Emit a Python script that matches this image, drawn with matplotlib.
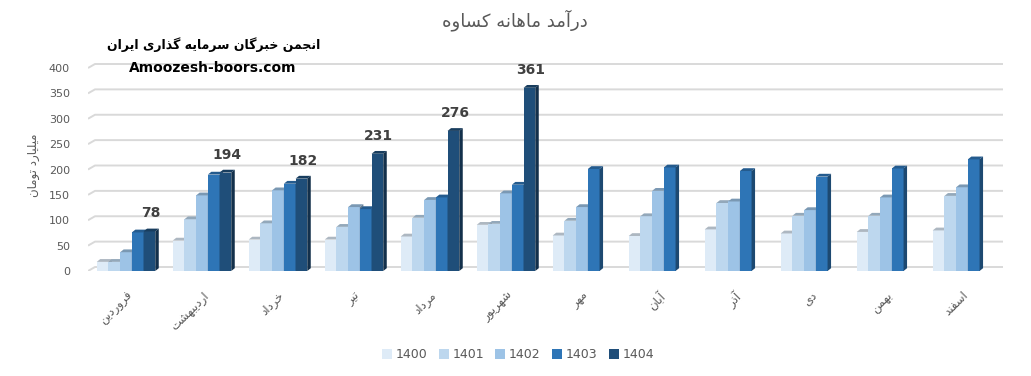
import numpy as np
import matplotlib
matplotlib.use("Agg")
import matplotlib.pyplot as plt
from matplotlib.patches import Polygon
from matplotlib.colors import to_rgb

# ---------------- data ----------------
months = ["فروردین", "اردیبهشت", "خرداد", "تیر", "مرداد", "شهریور",
          "مهر", "آبان", "آذر", "دی", "بهمن", "اسفند"]
years = ["1400", "1401", "1402", "1403", "1404"]
v1400 = [18, 60, 62, 62, 68, 91, 70, 69, 82, 74, 77, 80]
v1401 = [18, 102, 94, 87, 105, 93, 99, 108, 134, 109, 109, 148]
v1402 = [37, 149, 159, 126, 140, 153, 126, 158, 137, 120, 145, 165]
v1403 = [76, 190, 172, 122, 145, 170, 201, 204, 197, 186, 202, 220]
v1404 = [78, 194, 182, 231, 276, 361, np.nan, np.nan, np.nan, np.nan, np.nan, np.nan]
series = [v1400, v1401, v1402, v1403, v1404]
colors = ["#DEEBF7", "#BDD7EE", "#9DC3E6", "#2E75B6", "#1F4E79"]
yticks = [0, 50, 100, 150, 200, 250, 300, 350, 400]
title = "درآمد ماهانه کساوه"
ylabel = "میلیارد تومان"
wm1 = "انجمن خبرگان سرمایه گذاری ایران"
wm2 = "Amoozesh-boors.com"

# ---------------- Persian shaping (presentation forms + visual order) ----------------
FORMS = {
    'ا': (0xFE8D, 0xFE8E, None, None), 'آ': (0xFE81, 0xFE82, None, None),
    'ب': (0xFE8F, 0xFE90, 0xFE91, 0xFE92), 'پ': (0xFB56, 0xFB57, 0xFB58, 0xFB59),
    'ت': (0xFE95, 0xFE96, 0xFE97, 0xFE98), 'ث': (0xFE99, 0xFE9A, 0xFE9B, 0xFE9C),
    'ج': (0xFE9D, 0xFE9E, 0xFE9F, 0xFEA0), 'چ': (0xFB7A, 0xFB7B, 0xFB7C, 0xFB7D),
    'ح': (0xFEA1, 0xFEA2, 0xFEA3, 0xFEA4), 'خ': (0xFEA5, 0xFEA6, 0xFEA7, 0xFEA8),
    'د': (0xFEA9, 0xFEAA, None, None), 'ذ': (0xFEAB, 0xFEAC, None, None),
    'ر': (0xFEAD, 0xFEAE, None, None), 'ز': (0xFEAF, 0xFEB0, None, None),
    'ژ': (0xFB8A, 0xFB8B, None, None),
    'س': (0xFEB1, 0xFEB2, 0xFEB3, 0xFEB4), 'ش': (0xFEB5, 0xFEB6, 0xFEB7, 0xFEB8),
    'ص': (0xFEB9, 0xFEBA, 0xFEBB, 0xFEBC), 'ض': (0xFEBD, 0xFEBE, 0xFEBF, 0xFEC0),
    'ط': (0xFEC1, 0xFEC2, 0xFEC3, 0xFEC4), 'ظ': (0xFEC5, 0xFEC6, 0xFEC7, 0xFEC8),
    'ع': (0xFEC9, 0xFECA, 0xFECB, 0xFECC), 'غ': (0xFECD, 0xFECE, 0xFECF, 0xFED0),
    'ف': (0xFED1, 0xFED2, 0xFED3, 0xFED4), 'ق': (0xFED5, 0xFED6, 0xFED7, 0xFED8),
    'ک': (0xFB8E, 0xFB8F, 0xFB90, 0xFB91), 'گ': (0xFB92, 0xFB93, 0xFB94, 0xFB95),
    'ل': (0xFEDD, 0xFEDE, 0xFEDF, 0xFEE0), 'م': (0xFEE1, 0xFEE2, 0xFEE3, 0xFEE4),
    'ن': (0xFEE5, 0xFEE6, 0xFEE7, 0xFEE8), 'و': (0xFEED, 0xFEEE, None, None),
    'ه': (0xFEE9, 0xFEEA, 0xFEEB, 0xFEEC), 'ی': (0xFBFC, 0xFBFD, 0xFBFE, 0xFBFF),
    'ي': (0xFEF1, 0xFEF2, 0xFEF3, 0xFEF4),
}


def shape(text):
    out = []
    n = len(text)
    for i, ch in enumerate(text):
        f = FORMS.get(ch)
        if f is None:
            out.append(ch)
            continue
        prev = text[i - 1] if i > 0 else None
        nxt = text[i + 1] if i < n - 1 else None
        jp = prev in FORMS and FORMS[prev][2] is not None
        jn = f[2] is not None and nxt in FORMS
        if jp and jn:
            cp = f[3]
        elif jp:
            cp = f[1]
        elif jn:
            cp = f[2]
        else:
            cp = f[0]
        out.append(chr(cp))
    return "".join(reversed(out))


# ---------------- figure ----------------
plt.rcParams['font.family'] = ['DejaVu Sans']
W_PX, H_PX = 1031, 376
fig = plt.figure(figsize=(W_PX / 100, H_PX / 100), dpi=100)

px_per_y = 0.5075
y_bottom_px = 271
ymax = 415
ax_left_px, ax_right_px = 88, 1003
ax = fig.add_axes([ax_left_px / W_PX, 1 - y_bottom_px / H_PX,
                   (ax_right_px - ax_left_px) / W_PX, ymax * px_per_y / H_PX])
pitch_px = 76.0
xmin = -0.5
xmax = xmin + (ax_right_px - ax_left_px) / pitch_px
ax.set_xlim(xmin, xmax)
ax.set_ylim(0, ymax)

# pixel -> data conversions
dxu = 1.0 / pitch_px
dyu = 1.0 / px_per_y
depth_x = 3.5 * dxu
depth_y = 2.8 * dyu

# gridlines on the back wall
wall_dx = 7 * dxu
wall_dy = 4 * dyu
for t in yticks:
    ax.plot([xmin, xmin + wall_dx, xmax], [t, t + wall_dy, t + wall_dy],
            color="#D9D9D9", lw=1.4, zorder=1, solid_capstyle='butt')


def darker(c, f):
    r, g, b = to_rgb(c)
    return (r * f, g * f, b * f)


x = np.arange(len(months))
bw = 0.154
for i, (vals, col, yr) in enumerate(zip(series, colors, years)):
    xs = x + (i - 2) * bw
    z = 10 + 3 * i
    vals_arr = np.array(vals, dtype=float)
    ax.bar(xs, vals_arr, width=bw, color=col, edgecolor='none', zorder=z, label=yr)
    for xc, v in zip(xs, vals_arr):
        if np.isnan(v):
            continue
        x0, x1 = xc - bw / 2, xc + bw / 2
        top = Polygon([(x0, v), (x1, v), (x1 + depth_x, v + depth_y), (x0 + depth_x, v + depth_y)],
                      closed=True, facecolor=darker(col, 0.78), edgecolor='none', zorder=z + 1)
        side = Polygon([(x1, 0), (x1, v), (x1 + depth_x, v + depth_y), (x1 + depth_x, depth_y)],
                       closed=True, facecolor=darker(col, 0.62), edgecolor='none', zorder=z + 1)
        ax.add_patch(top)
        ax.add_patch(side)
        if i == 4:
            ax.text(xc + 0.02, v + 18 * dyu, f"{int(v)}", ha='center', va='center',
                    fontsize=10, fontweight='bold', color="#404040", zorder=40)

for s in ax.spines.values():
    s.set_visible(False)
ax.set_yticks(yticks)
ax.set_yticklabels([str(t) for t in yticks], fontsize=8, color="#595959")
ax.tick_params(axis='y', length=0, pad=13)
ax.set_xticks(x)
ax.set_xticklabels([shape(m) for m in months], rotation=45, ha='right',
                   rotation_mode='anchor', fontsize=8.5, color="#595959")
ax.tick_params(axis='x', length=0, pad=13)

fig.text(33 / W_PX, 1 - 165 / H_PX, shape(ylabel), rotation=90, ha='center', va='center',
         fontsize=8.5, color="#595959")
fig.text(515 / W_PX, 1 - 20 / H_PX, shape(title), ha='center', va='center',
         fontsize=13, color="#595959")
fig.text(214 / W_PX, 1 - 45 / H_PX, shape(wm1), ha='center', va='center',
         fontsize=9, fontweight='bold', color="black", zorder=50)
fig.text(213 / W_PX, 1 - 68 / H_PX, wm2, ha='center', va='center',
         fontsize=10, fontweight='bold', color="black", zorder=50)

fig.legend(loc='center', bbox_to_anchor=(518 / W_PX, 1 - 355 / H_PX), ncol=5,
           frameon=False, fontsize=9, handlelength=0.8, handleheight=0.8,
           handletextpad=0.3, columnspacing=0.9, labelcolor="#595959")

fig.savefig("out.png", dpi=100)
